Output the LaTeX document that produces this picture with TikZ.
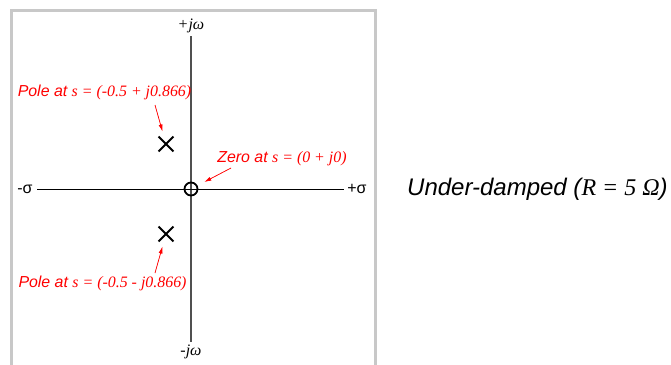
\documentclass[tikz,border=0pt]{standalone}
\usepackage{fontspec}
\setmainfont{Liberation Sans}
\newfontfamily\tms{Liberation Serif}
\usetikzlibrary{arrows.meta,shapes.misc}
\definecolor{frmgray}{RGB}{200,200,200}
\definecolor{axgray}{RGB}{80,80,80}
\definecolor{lblred}{RGB}{255,0,0}
\begin{document}
\begin{tikzpicture}[x=1pt,y=-1pt,>={Latex[length=7pt,width=4pt]},font=\fontsize{15.9}{18}\selectfont,
    poletag/.style={text=lblred,inner sep=0pt},
    redarrow/.style={->,draw=lblred,fill=lblred,line width=0.7pt},
    polemark/.style={draw,cross out,line width=1.8pt,minimum size=13pt,inner sep=0pt},
    axlabel/.style={inner sep=0pt,font=\fontsize{16}{18}\selectfont}]
  \useasboundingbox (0,0) rectangle (671,364);
  \draw[frmgray,line width=3pt] (11.5,372) -- (11.5,10.5) -- (375.5,10.5) -- (375.5,372);
  \node[axlabel] (jwp) at (191,26) {\tms\itshape +jω};
  \node[axlabel] (jwm) at (191,352) {\tms\itshape -jω};
  \node[axlabel] (sgm) at (25,189) {-σ};
  \node[axlabel] (sgp) at (357,189) {+σ};
  \draw[axgray,line width=1.1pt] (191,36) -- (191,342);
  \draw[black,line width=1pt] (37,189) -- (344,189);
  \node[draw,circle,line width=1.8pt,minimum size=13pt,inner sep=0pt] (zero) at (191,189) {};
  \node[polemark] (pup) at (166,144) {};
  \node[polemark] (pdn) at (166,234) {};
  \node[poletag] (tup) at (104.5,92) {\itshape Pole at {\tms s = (-0.5 + j0.866)}};
  \node[poletag] (tzero) at (282,159) {\itshape Zero at {\tms s = (0 + j0)}};
  \node[poletag] (tdn) at (102.5,283) {\itshape Pole at {\tms s = (-0.5 - j0.866)}};
  \coordinate (aup) at (155,105);
  \coordinate (azero) at (231,168);
  \coordinate (adn) at (155,273);
  \draw[redarrow,shorten >=13pt] (aup) -- (pup.center);
  \draw[redarrow,shorten >=15pt] (azero) -- (zero.center);
  \draw[redarrow,shorten >=13pt] (adn) -- (pdn.center);
  \node[anchor=west,inner sep=0pt,font=\fontsize{24}{28}\selectfont] (ttl) at (407,189)
    {\itshape Under-damped ({\tms R = 5 Ω})};
\end{tikzpicture}
\end{document}
